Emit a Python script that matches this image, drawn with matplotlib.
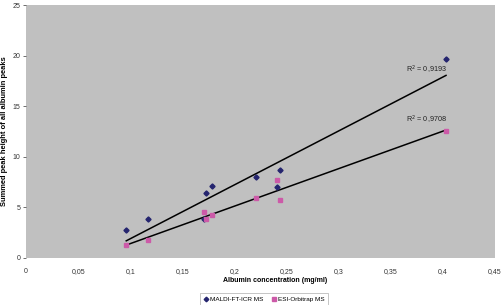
import numpy as np
import matplotlib.pyplot as plt

plt.rcParams['font.family'] = ['Liberation Sans', 'DejaVu Sans']

# albumin concentration (mg/ml)
conc = [0.0962, 0.1175, 0.171, 0.1725, 0.1787, 0.2207, 0.2405, 0.2437, 0.403]
# summed peak heights
maldi = [2.74, 3.86, 3.86, 6.47, 7.13, 7.99, 7.0, 8.71, 19.63]
esi = [1.32, 1.75, 4.58, 3.86, 4.29, 5.91, 7.72, 5.74, 12.57]

maldi_label = 'MALDI-FT-ICR MS'
esi_label = 'ESI-Orbitrap MS'
r2_labels = ['R$^2$ = 0,9193', 'R$^2$ = 0,9708']

xticks = [0, 0.05, 0.1, 0.15, 0.2, 0.25, 0.3, 0.35, 0.4, 0.45]
yticks = [0, 5, 10, 15, 20, 25]

fig = plt.figure(figsize=(5.02, 3.05), dpi=100)
ax = fig.add_axes([26 / 502, 1 - 258 / 305, 469 / 502, 253 / 305])
ax.set_facecolor('#c0c0c0')

x = np.array(conc)
ax.plot(x, maldi, 'D', color='#24246e', markersize=2.6, label=maldi_label, zorder=3)
ax.plot(x, esi, 's', color='#cc5aa8', markersize=3.4, label=esi_label, zorder=3)

# linear trendlines
xs = np.array([x.min(), x.max()])
for ys in (maldi, esi):
    k, b = np.polyfit(x, ys, 1)
    ax.plot(xs, k * xs + b, color='black', lw=1.1, zorder=2)

ax.text(0.4035, 18.6, r2_labels[0], ha='right', va='center', fontsize=5.2, color='#222222')
ax.text(0.4035, 13.66, r2_labels[1], ha='right', va='center', fontsize=5.2, color='#222222')

ax.set_xlim(0, 0.45)
ax.set_ylim(0, 25)
ax.set_xticks(xticks)
ax.set_xticklabels([('%g' % t).replace('.', ',') for t in xticks])
ax.set_yticks(yticks)
ax.tick_params(axis='both', labelsize=5, colors='#333333', length=2, width=0.5, pad=2)
ax.tick_params(axis='x', length=0, pad=7)
for s in ax.spines.values():
    s.set_visible(False)

fig.text(275 / 502, 1 - 281 / 305, 'Albumin concentration (mg/ml)', ha='center', va='center',
         fontsize=5, fontweight='bold')
fig.text(5 / 502, 1 - 131 / 305, 'Summed peak height of all albumin peaks', ha='center', va='center',
         rotation=90, fontsize=5.4, fontweight='bold')

leg = fig.legend(loc='center', bbox_to_anchor=(264 / 502, 1 - 299 / 305), ncol=2, fontsize=4.6,
                 frameon=True, fancybox=False, handlelength=0.8, handletextpad=0.3,
                 columnspacing=1.2, borderpad=0.5, markerscale=0.9)
leg.get_frame().set_edgecolor('#999999')
leg.get_frame().set_linewidth(0.5)

fig.savefig('out.png', dpi=100)
